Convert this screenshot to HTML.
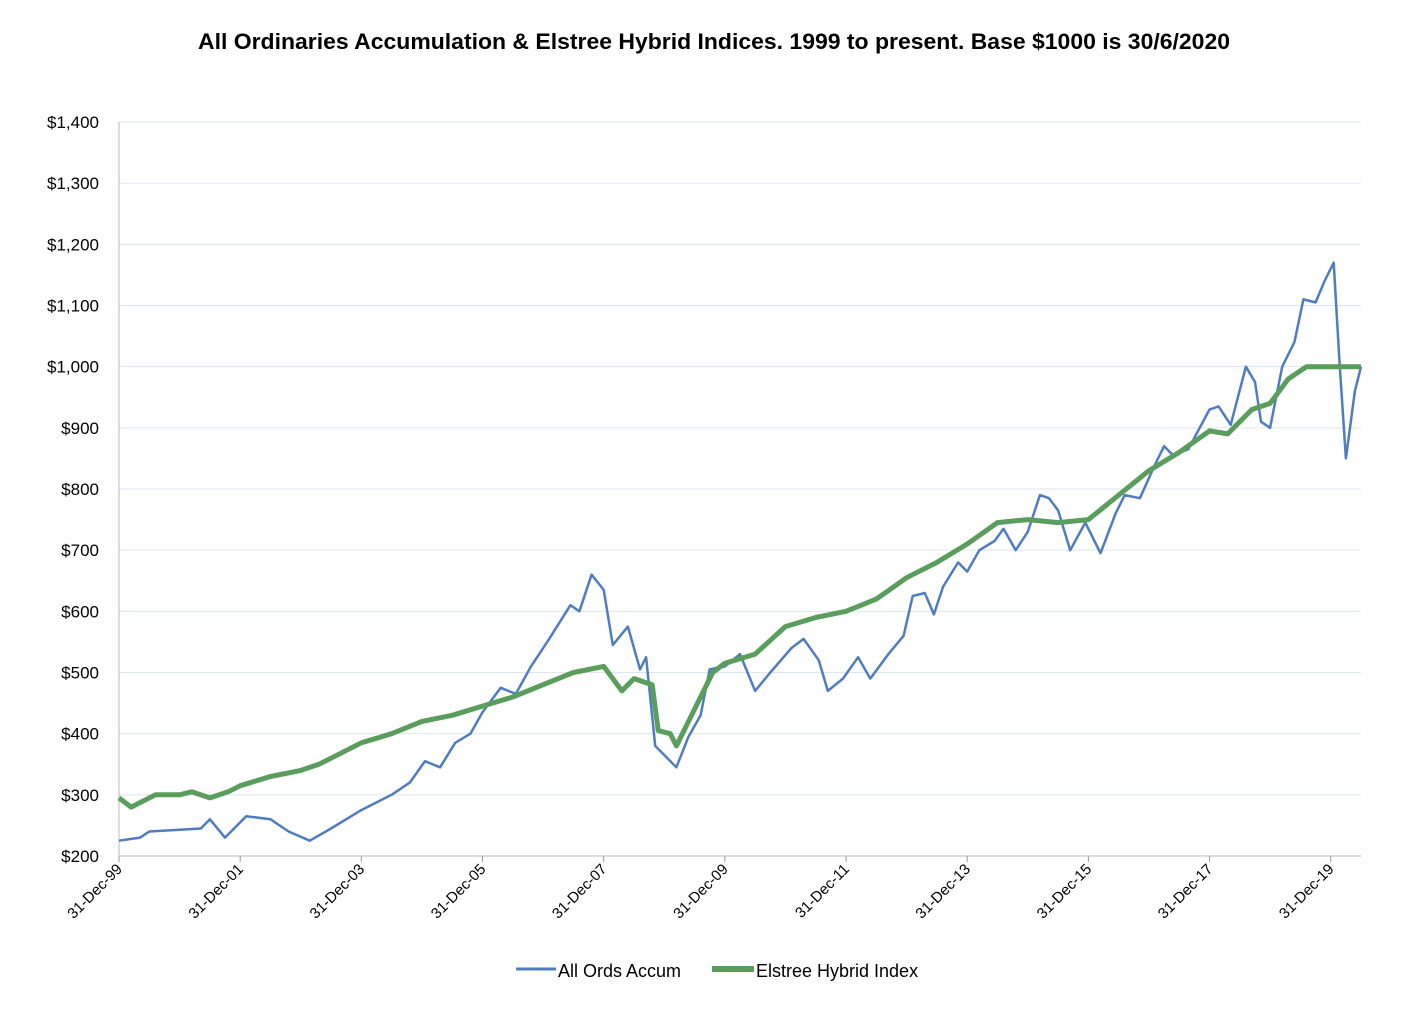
<!DOCTYPE html>
<html><head><meta charset="utf-8"><style>
body{margin:0;background:#fff;font-family:"Liberation Sans",sans-serif}
svg text{font-family:"Liberation Sans",sans-serif}
</style></head><body>
<svg id="chart" width="1424" height="1006" viewBox="0 0 1424 1006">
<text x="714" y="49" text-anchor="middle" font-size="22" font-weight="bold" textLength="1032" lengthAdjust="spacingAndGlyphs">All Ordinaries Accumulation &amp; Elstree Hybrid Indices. 1999 to present. Base $1000 is 30/6/2020</text>
<g id="grid"></g><g id="axes"></g><g id="series"></g>
<g>
<line x1="516" y1="969" x2="556" y2="969" stroke="#4f7dc0" stroke-width="3"/>
<text x="558" y="977" font-size="18">All Ords Accum</text>
<line x1="712" y1="969" x2="754" y2="969" stroke="#5a9e5c" stroke-width="6"/>
<text x="756" y="977" font-size="18">Elstree Hybrid Index</text>
</g>
</svg>
<script>
const yTicks=[200,300,400,500,600,700,800,900,1000,1100,1200,1300,1400];
const xTickYears=[0,2,4,6,8,10,12,14,16,18,20];
const xTickLabels=["31-Dec-99","31-Dec-01","31-Dec-03","31-Dec-05","31-Dec-07","31-Dec-09","31-Dec-11","31-Dec-13","31-Dec-15","31-Dec-17","31-Dec-19"];
const allOrdsT=[0,0.35,0.5,1.35,1.5,1.75,2.1,2.5,2.8,3.15,3.5,4,4.5,4.8,5.05,5.3,5.55,5.8,6,6.3,6.55,6.8,7.1,7.45,7.6,7.8,8,8.15,8.4,8.6,8.7,8.85,9.2,9.4,9.6,9.75,10,10.25,10.5,10.75,11.1,11.3,11.55,11.7,11.95,12.2,12.4,12.7,12.95,13.1,13.3,13.45,13.6,13.85,14,14.2,14.45,14.6,14.8,15,15.2,15.35,15.5,15.7,15.95,16.2,16.45,16.6,16.85,17.1,17.25,17.4,17.65,18,18.15,18.35,18.6,18.75,18.85,19,19.2,19.4,19.55,19.75,19.9,20.05,20.15,20.25,20.4,20.5];
const allOrdsV=[225,230,240,245,260,230,265,260,240,225,245,275,300,320,355,345,385,400,435,475,465,510,555,610,600,660,635,545,575,505,525,380,345,395,430,505,510,530,470,500,540,555,520,470,490,525,490,530,560,625,630,595,640,680,665,700,715,735,700,730,790,785,765,700,745,695,760,790,785,840,870,855,865,930,935,905,1000,975,910,900,1000,1040,1110,1105,1140,1170,1000,850,960,1000];
const elstreeT=[0,0.2,0.6,1,1.2,1.5,1.8,2,2.5,3,3.3,4,4.5,5,5.5,6,6.5,7,7.5,8,8.3,8.5,8.8,8.9,9.1,9.2,9.5,9.8,10,10.5,11,11.5,12,12.5,13,13.5,14,14.5,15,15.5,16,16.5,17,17.5,18,18.3,18.7,19,19.3,19.6,20.5];
const elstreeV=[295,280,300,300,305,295,305,315,330,340,350,385,400,420,430,445,460,480,500,510,470,490,480,405,400,380,440,500,515,530,575,590,600,620,655,680,710,745,750,745,750,790,830,860,895,890,930,940,980,1000,1000];
const X0=119,X1=1361,T1=20.5,Y0=856,Y1=122;
const xs=t=>X0+(X1-X0)*t/T1, ys=v=>Y0-(Y0-Y1)*(v-200)/1200;
const NS="http://www.w3.org/2000/svg";
function mk(tag,attrs,parent){const e=document.createElementNS(NS,tag);for(const k in attrs)e.setAttribute(k,attrs[k]);document.getElementById(parent).appendChild(e);return e;}
yTicks.forEach(v=>{
 const l=mk('line',{x1:X0,x2:X1,y1:ys(v),y2:ys(v),stroke:v===200?'#bbb':'#dfe6f0','stroke-width':1},'grid');
 
 
 const t=mk('text',{x:99,y:ys(v)+6,'text-anchor':'end','font-size':17},'axes');
 t.textContent='$'+v.toLocaleString('en-US');
 
 
});
const ax=mk('line',{x1:X0,x2:X0,y1:Y1,y2:Y0,stroke:'#bbb'},'axes');


xTickYears.forEach((y,i)=>{
 const x=xs(y);
 mk('line',{x1:x,x2:x,y1:Y0,y2:Y0+6,stroke:'#999'},'axes');
 const t=mk('text',{x:x+4,y:Y0+14,'text-anchor':'end','font-size':15,transform:`rotate(-45 ${x+4} ${Y0+14})`},'axes');
 t.textContent=xTickLabels[i];
 
 
});
function path(T,V,color,w,name){
 const d=T.map((t,i)=>(i?'L':'M')+xs(t).toFixed(1)+','+ys(V[i]).toFixed(1)).join('');
 const p=mk('path',{d,fill:'none',stroke:color,'stroke-width':w,'stroke-linejoin':'round'},'series');
 
 
}
path(allOrdsT,allOrdsV,'#4f7dc0',2.5,'all-ords-line');
path(elstreeT,elstreeV,'#5a9e5c',5,'elstree-line');
</script>
</body></html>
